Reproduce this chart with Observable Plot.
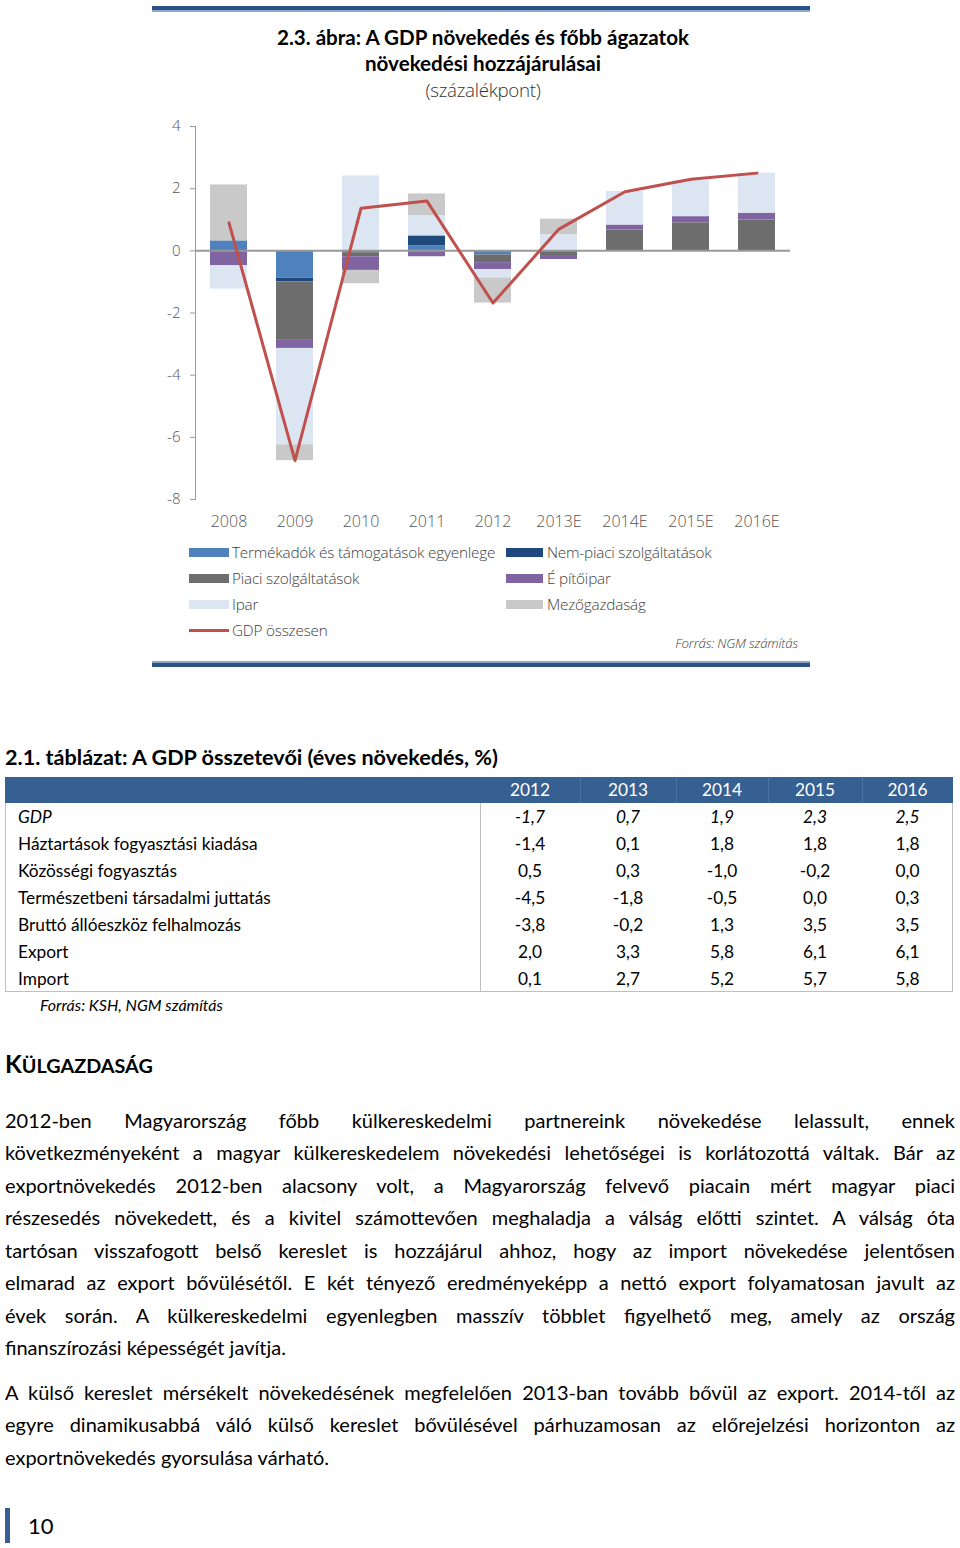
<!DOCTYPE html>
<html><head><meta charset="utf-8">
<script src="https://cdn.jsdelivr.net/npm/d3@7"></script>
<script src="https://cdn.jsdelivr.net/npm/@observablehq/plot@0.6"></script>
<style>
html,body{margin:0;padding:0;background:#fff;}
#page{position:relative;width:960px;height:1548px;overflow:hidden;font-family:Lato,"Open Sans",sans-serif;color:#000;}
.abs{position:absolute;}
.hl{position:absolute;left:152px;width:658px;}
.title{position:absolute;left:0;width:966px;text-align:center;font-weight:bold;font-size:20.6px;line-height:26px;}
.leg{position:absolute;font-family:"Open Sans",sans-serif;font-weight:300;font-size:15.3px;line-height:26px;color:#404040;white-space:nowrap;letter-spacing:-0.2px;}
.sw{position:absolute;height:9px;}
.cell{position:absolute;white-space:nowrap;font-size:17.3px;}
.line{position:absolute;left:5px;width:950px;white-space:nowrap;font-size:20px;line-height:32.4px;text-align:justify;text-align-last:justify;}
.line.last{text-align-last:left;}
</style></head>
<body><div id="page"></div>
<script>
// ---- Chart data ----
const years = ["2008","2009","2010","2011","2012","2013E","2014E","2015E","2016E"];
const seriesNames = ["Termékadók és támogatások egyenlege","Nem-piaci szolgáltatások","Piaci szolgáltatások","Építőipar","Ipar","Mezőgazdaság"];
const termekadok   = [0.32, -0.88, -0.06, 0.16, -0.13, 0, 0, 0, 0];
const nemPiaci     = [0, -0.12, 0, 0.32, 0, 0, 0, 0, 0];
const piaci        = [0, -1.88, -0.13, 0, -0.25, -0.15, 0.67, 0.9, 0.99];
const epitoipar    = [-0.48, -0.26, -0.44, -0.19, -0.22, -0.13, 0.16, 0.2, 0.22];
const ipar         = [-0.75, -3.1, 2.41, 0.65, -0.27, 0.52, 1.08, 1.16, 1.29];
const mezogazdasag = [1.8, -0.51, -0.43, 0.7, -0.81, 0.5, 0, 0, 0];
const gdp          = [0.9, -6.75, 1.37, 1.6, -1.68, 0.7, 1.9, 2.3, 2.5];
const yTicks = [-8, -6, -4, -2, 0, 2, 4];
const seriesColors = ["#4F81BD","#1F497D","#6D6D6D","#8064A2","#DCE6F2","#C9C9C9"];
const gdpName = "GDP összesen";
const gdpColor = "#C0504D";

// ---- Table data ----
const tableYears = ["2012","2013","2014","2015","2016"];
const tableRows = ["GDP","Háztartások fogyasztási kiadása","Közösségi fogyasztás","Természetbeni társadalmi juttatás","Bruttó állóeszköz felhalmozás","Export","Import"];
const tableValues = [
  ["-1,7","0,7","1,9","2,3","2,5"],
  ["-1,4","0,1","1,8","1,8","1,8"],
  ["0,5","0,3","-1,0","-0,2","0,0"],
  ["-4,5","-1,8","-0,5","0,0","0,3"],
  ["-3,8","-0,2","1,3","3,5","3,5"],
  ["2,0","3,3","5,8","6,1","6,1"],
  ["0,1","2,7","5,2","5,7","5,8"]
];

const page = document.getElementById("page");
function add(html){ page.insertAdjacentHTML("beforeend", html); }

// top double rule
add(`<div class="hl" style="top:6px;height:4px;background:#2B5285"></div>`);
add(`<div class="hl" style="top:10px;height:2px;background:#8FA8C8"></div>`);
// titles
add(`<div class="title" style="top:24px">2.3. ábra: A GDP növekedés és főbb ágazatok</div>`);
add(`<div class="title" style="top:50px">növekedési hozzájárulásai</div>`);
add(`<div class="title" style="top:77px;font-weight:300;font-family:'Open Sans',sans-serif;font-size:18.8px;color:#333;letter-spacing:-0.3px">(százalékpont)</div>`);

// chart
const rows = [termekadok, nemPiaci, piaci, epitoipar, ipar, mezogazdasag]
  .flatMap((arr, i) => years.map((y, j) => ({year: y, series: seriesNames[i], value: arr[j]})));
const gdpRows = years.map((y, j) => ({year: y, value: gdp[j]}));

const chart = Plot.plot({
  width: 960, height: 430,
  marginLeft: 195, marginRight: 170, marginTop: 16, marginBottom: 41,
  style: {fontFamily: "'Open Sans', sans-serif", fontWeight: 300, fontSize: "15px", color: "#555", background: "transparent"},
  x: {domain: years, paddingInner: 0.44, paddingOuter: 0.22, label: null},
  y: {domain: [-8, 4], label: null},
  color: {domain: seriesNames, range: seriesColors},
  marks: [
    Plot.barY(rows, {x: "year", y: "value", fill: "series"}),
    Plot.ruleY([0], {stroke: "#999", strokeWidth: 2}),
    Plot.frame({anchor: "left", stroke: "#999"}),
    Plot.line(gdpRows, {x: "year", y: "value", stroke: gdpColor, strokeWidth: 3}),
    Plot.axisY({ticks: yTicks, tickFormat: d => String(d), tickSize: 5, tickPadding: 10, stroke: "#999", fontSize: 15, label: null}),
    Plot.axisX({tickSize: 0, tickPadding: 16, fontSize: 16, label: null})
  ]
});
chart.style.position = "absolute";
chart.style.left = "0px";
chart.style.top = "110px";
page.appendChild(chart);

// legend
const legItems = [
  {name: seriesNames[0], color: seriesColors[0], x: 189, row: 0},
  {name: seriesNames[1], color: seriesColors[1], x: 506, row: 0},
  {name: seriesNames[2], color: seriesColors[2], x: 189, row: 1},
  {name: "É pítőipar", color: seriesColors[3], x: 506, row: 1},
  {name: seriesNames[4], color: seriesColors[4], x: 189, row: 2},
  {name: seriesNames[5], color: seriesColors[5], x: 506, row: 2}
];
legItems.forEach(it => {
  const cy = 552 + it.row * 26;
  add(`<div class="sw" style="left:${it.x}px;top:${cy-4.5}px;width:${it.x===189?40:37}px;background:${it.color}"></div>`);
  add(`<div class="leg" style="left:${it.x + (it.x===189?43:41)}px;top:${cy-13}px">${it.name}</div>`);
});
add(`<div class="sw" style="left:189px;top:629px;width:40px;height:3px;background:${gdpColor}"></div>`);
add(`<div class="leg" style="left:232px;top:617px">${gdpName}</div>`);
add(`<div class="leg" style="left:600px;width:198px;text-align:right;top:631px;font-size:13.3px;font-style:italic;line-height:24px">Forrás: NGM számítás</div>`);

// bottom double rule
add(`<div class="hl" style="top:661px;height:2px;background:#8FA8C8"></div>`);
add(`<div class="hl" style="top:663px;height:4px;background:#2B5285"></div>`);

// table title
add(`<div class="abs" style="left:5px;top:744px;font-size:21.6px;font-weight:bold;line-height:26px;white-space:nowrap">2.1. táblázat: A GDP összetevői (éves növekedés, %)</div>`);

// table (div grid)
const colEdges = [5, 480, 580, 676, 768, 862, 953];
const tTop = 777, hH = 26, rH = 27;
const tBottom = tTop + hH + rH * tableRows.length;
add(`<div class="abs" style="left:5px;top:${tTop}px;width:948px;height:${tBottom-tTop}px;box-sizing:border-box;border:1px solid #BFBFBF"></div>`);
add(`<div class="abs" style="left:5px;top:${tTop}px;width:948px;height:${hH}px;background:#376092"></div>`);
for (let c = 2; c < colEdges.length - 1; c++) {
  add(`<div class="abs" style="left:${colEdges[c]}px;top:${tTop}px;width:1px;height:${hH}px;background:#4A72A3"></div>`);
}
add(`<div class="abs" style="left:${colEdges[1]}px;top:${tTop+hH}px;width:1px;height:${tBottom-tTop-hH}px;background:#BFBFBF"></div>`);
tableYears.forEach((y, i) => {
  add(`<div class="cell" style="left:${colEdges[i+1]}px;width:${colEdges[i+2]-colEdges[i+1]}px;top:${tTop}px;line-height:${hH}px;text-align:center;color:#fff">${y}</div>`);
});
tableRows.forEach((r, ri) => {
  const top = tTop + hH + ri * rH;
  const it = ri === 0 ? "font-style:italic;" : "";
  add(`<div class="cell" style="left:18px;top:${top}px;line-height:${rH}px;${it}">${r}</div>`);
  tableValues[ri].forEach((v, i) => {
    add(`<div class="cell" style="left:${colEdges[i+1]}px;width:${colEdges[i+2]-colEdges[i+1]}px;top:${top}px;line-height:${rH}px;text-align:center;${it}">${v}</div>`);
  });
});
add(`<div class="abs" style="left:40px;top:994px;font-size:16px;font-style:italic;line-height:22px;white-space:nowrap">Forrás: KSH, NGM számítás</div>`);

// heading
add(`<div class="abs" style="left:5px;top:1049px;font-weight:bold;line-height:30px;white-space:nowrap"><span style="font-size:24.5px">K</span><span style="font-size:19.8px">ÜLGAZDASÁG</span></div>`);

// paragraphs
const para1 = [
  "2012-ben Magyarország főbb külkereskedelmi partnereink növekedése lelassult, ennek",
  "következményeként a magyar külkereskedelem növekedési lehetőségei is korlátozottá váltak. Bár az",
  "exportnövekedés 2012-ben alacsony volt, a Magyarország felvevő piacain mért magyar piaci",
  "részesedés növekedett, és a kivitel számottevően meghaladja a válság előtti szintet. A válság óta",
  "tartósan visszafogott belső kereslet is hozzájárul ahhoz, hogy az import növekedése jelentősen",
  "elmarad az export bővülésétől. E két tényező eredményeképp a nettó export folyamatosan javult az",
  "évek során. A külkereskedelmi egyenlegben masszív többlet figyelhető meg, amely az ország",
  "finanszírozási képességét javítja."
];
const para2 = [
  "A külső kereslet mérsékelt növekedésének megfelelően 2013-ban tovább bővül az export. 2014-től az",
  "egyre dinamikusabbá váló külső kereslet bővülésével párhuzamosan az előrejelzési horizonton az",
  "exportnövekedés gyorsulása várható."
];
function addPara(lines, top0){
  lines.forEach((t, i) => {
    const last = i === lines.length - 1;
    const d = document.createElement("div");
    d.className = "line" + (last ? " last" : "");
    d.style.top = (top0 + i * 32.45) + "px";
    const s = document.createElement("span");
    s.textContent = t;
    d.appendChild(s);
    page.appendChild(d);
    const w = s.getBoundingClientRect().width;
    if (w > 950) {
      d.style.letterSpacing = ((950 - w) / t.length - 0.05) + "px";
    }
  });
}
addPara(para1, 1104);
addPara(para2, 1376);

// page number
add(`<div class="abs" style="left:5px;top:1508px;width:5px;height:35px;background:#3A5F95"></div>`);
add(`<div class="abs" style="left:28px;top:1512px;font-size:22px;line-height:28px">10</div>`);
</script>
</body></html>
